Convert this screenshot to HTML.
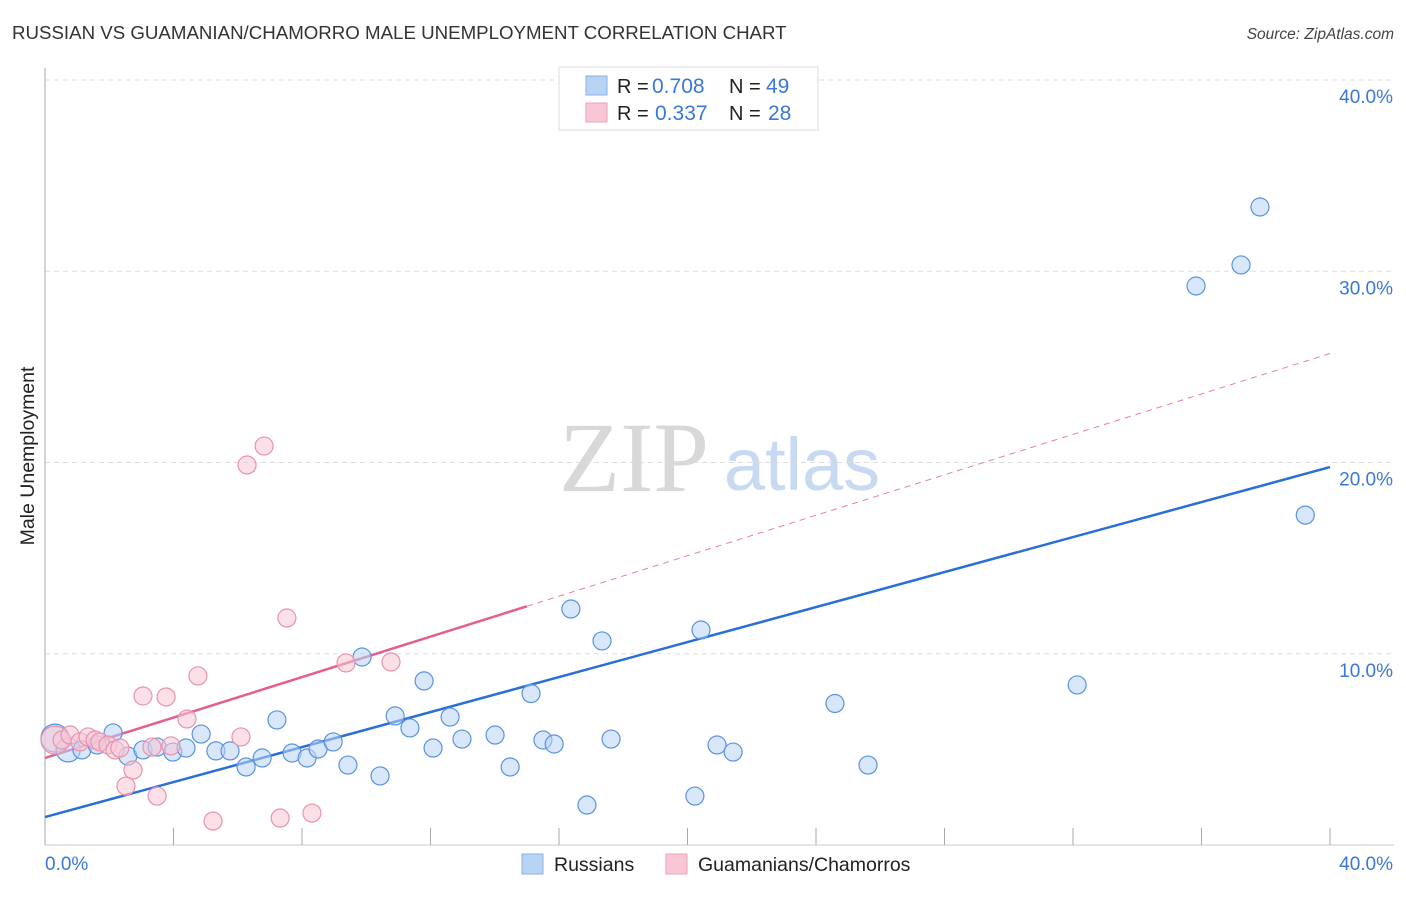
<!DOCTYPE html>
<html><head><meta charset="utf-8"><style>
body{margin:0;background:#fff;font-family:"Liberation Sans",sans-serif;}
svg text{font-family:"Liberation Sans",sans-serif;}
svg text.serif{font-family:"Liberation Serif",serif;}
</style></head><body>
<svg id="chart" width="1406" height="892" xmlns="http://www.w3.org/2000/svg">
<text x="12" y="39" font-size="18.7" fill="#333">RUSSIAN VS GUAMANIAN/CHAMORRO MALE UNEMPLOYMENT CORRELATION CHART</text>
<text x="1394" y="39" font-size="15.5" fill="#444" text-anchor="end" font-style="italic">Source: ZipAtlas.com</text>
<text transform="translate(34,456) rotate(-90)" font-size="19.5" fill="#222" text-anchor="middle">Male Unemployment</text>
<g>
<text class="serif" x="634" y="491" font-size="100" fill="#d8d8d8" text-anchor="middle">ZIP</text>
<text x="802" y="490" font-size="74" fill="#c8daf2" text-anchor="middle">atlas</text>
</g>
<g id="grid"></g><g id="axes"></g><g id="trend"></g><g id="pts"></g>
<g>
<rect x="559" y="67" width="259" height="63" fill="#fff" stroke="#ddd"/>
<rect x="586" y="76" width="21" height="19" fill="#b9d3f5" stroke="#8ab0e6"/>
<rect x="586" y="103" width="21" height="19" fill="#f8c6d5" stroke="#eba2b8"/>
<text x="617" y="93" font-size="20" fill="#222">R = </text><text x="652" y="93" font-size="21" fill="#3a78d8">0.708</text>
<text x="729" y="93" font-size="20" fill="#222">N = </text><text x="766" y="93" font-size="21" fill="#3a78d8">49</text>
<text x="617" y="120" font-size="20" fill="#222">R = </text><text x="655" y="120" font-size="21" fill="#3a78d8">0.337</text>
<text x="729" y="120" font-size="20" fill="#222">N = </text><text x="768" y="120" font-size="21" fill="#3a78d8">28</text>
</g>
<g>
<rect x="522" y="854" width="21" height="20" fill="#b9d3f5" stroke="#8ab0e6"/>
<text x="554" y="871" font-size="19.5" fill="#222">Russians</text>
<rect x="666" y="854" width="21" height="20" fill="#f8c6d5" stroke="#eba2b8"/>
<text x="698" y="871" font-size="19.5" fill="#222">Guamanians/Chamorros</text>
</g>
</svg>
<script>
const yTicks=[10,20,30,40];
const yTickLabels=["10.0%","20.0%","30.0%","40.0%"];
const xTicks=[0,4,8,12,16,20,24,28,32,36,40];
const russX=[0.31,0.72,1.15,1.62,2.12,2.58,3.05,3.49,3.98,4.39,4.86,5.32,5.76,6.26,6.76,7.22,7.69,8.16,8.50,8.97,9.43,9.87,10.43,10.90,11.36,11.80,12.08,12.61,12.98,14.01,14.48,15.13,15.50,15.85,16.37,16.87,17.34,17.62,20.23,20.42,20.92,21.42,24.59,25.62,32.13,35.83,37.23,37.82,39.23];
const russY=[5.59,4.97,4.97,5.23,5.86,4.65,4.97,5.12,4.86,5.07,5.80,4.92,4.92,4.08,4.55,6.54,4.81,4.55,5.02,5.39,4.18,9.83,3.61,6.75,6.12,8.58,5.07,6.69,5.54,5.75,4.08,7.92,5.49,5.28,12.34,2.09,10.67,5.54,2.56,11.24,5.23,4.86,7.40,4.18,8.37,29.23,30.33,33.36,17.25];
const guamX=[0.31,0.53,0.78,1.09,1.34,1.56,1.71,1.96,2.18,2.33,2.52,2.74,3.05,3.33,3.49,3.77,3.92,4.42,4.76,5.23,6.10,6.29,6.82,7.32,7.53,8.31,9.37,10.77];
const guamY=[5.49,5.49,5.75,5.39,5.65,5.49,5.39,5.23,4.97,5.07,3.08,3.92,7.79,5.12,2.56,7.74,5.18,6.59,8.84,1.25,5.65,19.87,20.86,1.41,11.87,1.67,9.52,9.57];
const russTrend=[1.46,19.76];
const guamTrend=[4.55,25.7];
const guamSolidEnd=15.0;
const NS="http://www.w3.org/2000/svg";
const sx=v=>45+v/40*1285, sy=v=>845-v*19.125;
function mk(t,a,p){const e=document.createElementNS(NS,t);for(const k in a)e.setAttribute(k,a[k]);p.appendChild(e);return e;}
const grid=document.getElementById('grid'),axes=document.getElementById('axes'),trend=document.getElementById('trend'),pts=document.getElementById('pts');
yTicks.forEach((v,i)=>{
 const l=mk('line',{x1:45,x2:1394,y1:sy(v),y2:sy(v),stroke:'#ddd','stroke-dasharray':'5,4'},grid);
 
 
 const t=mk('text',{x:1393,y:sy(v)+23,'font-size':19,fill:'#3a78d8','text-anchor':'end'},grid);
 t.textContent=yTickLabels[i];
 
 
});
const ax=mk('line',{x1:45,x2:45,y1:68,y2:845,stroke:'#aaa'},axes);


const bx=mk('line',{x1:45,x2:1394,y1:845,y2:845,stroke:'#ccc'},axes);


xTicks.forEach(v=>{
 const l=mk('line',{x1:sx(v),x2:sx(v),y1:828,y2:845,stroke:'#aaa'},axes);
 
 
});
[[0,"0.0%",'start',45],[40,"40.0%",'end',1393]].forEach(a=>{
 const t=mk('text',{x:a[3],y:870,'font-size':19,fill:'#3a78d8','text-anchor':a[2]},axes);
 t.textContent=a[1];
 
 
});
function drawPts(X,Y,fill,stroke,name){
 X.forEach((x,i)=>{
  const r=i===0?14:(i===1&&name==='russian-point'?12:9);
  const c=mk('circle',{cx:sx(x),cy:sy(Y[i]),r:r,fill:fill,'fill-opacity':0.55,stroke:stroke,'stroke-width':1.2},pts);
  
  
 });
}
drawPts(russX,russY,'#b9d3f5','#5a93e0','russian-point');
drawPts(guamX,guamY,'#f8c6d5','#e993ad','guamanian-point');
const gs=guamTrend[0]+(guamTrend[1]-guamTrend[0])*guamSolidEnd/40;
const gd=mk('line',{x1:sx(guamSolidEnd),y1:sy(gs),x2:sx(40),y2:sy(guamTrend[1]),stroke:'#e87fa2','stroke-width':1,'stroke-dasharray':'6,5'},trend);


const g1=mk('line',{x1:sx(0),y1:sy(guamTrend[0]),x2:sx(guamSolidEnd),y2:sy(gs),stroke:'#e4608c','stroke-width':2.5},trend);


const r1=mk('line',{x1:sx(0),y1:sy(russTrend[0]),x2:sx(40),y2:sy(russTrend[1]),stroke:'#2a6fd8','stroke-width':2.5},trend);


</script>
</body></html>
